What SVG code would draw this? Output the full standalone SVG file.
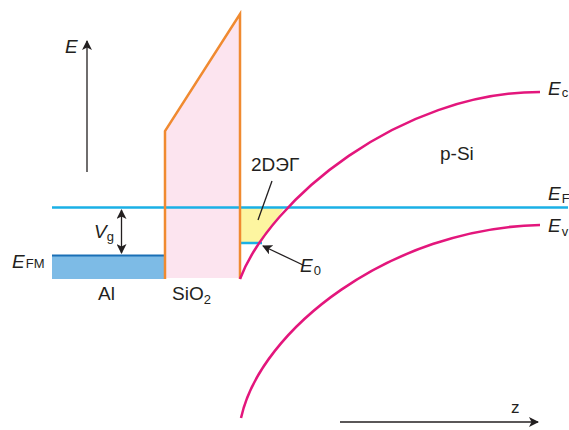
<svg xmlns="http://www.w3.org/2000/svg" width="569" height="430" viewBox="0 0 569 430">
<defs>
<marker id="ah" viewBox="0 0 10 10" refX="9" refY="5" markerWidth="10" markerHeight="10" markerUnits="userSpaceOnUse" orient="auto-start-reverse">
<path d="M0,0 L10,5 L0,10 L2.5,5 Z" fill="#231f20"/>
</marker>
</defs>
<style>
text{font-family:"Liberation Sans",Arial,sans-serif;fill:#231f20}
.it{font-style:italic;font-size:19px}
.sub{font-size:13px;font-style:normal}
.lbl{font-size:19px}
.band{fill:none;stroke:#e3167c;stroke-width:2.5}
.cyan{stroke:#1ab0e6;stroke-width:2.5;fill:none}
.ax{stroke:#231f20;stroke-width:1.3;fill:none}
</style>
<g id="oxide">
<polygon points="165,278 165,131 240,14 240,278" fill="#fce4ef"/>
</g>
<g id="metal">
<rect x="52" y="255" width="112" height="24" fill="#7dbbe6"/>
<line x1="52" y1="255.5" x2="164" y2="255.5" stroke="#1a6fb5" stroke-width="2.2"/>
</g>
<g id="gas2d">
<path d="M241,208 L284,208 L261,243 L241,243 Z" fill="#fdf5a0"/>
<line class="cyan" x1="240" y1="243" x2="262" y2="243"/>
</g>
<g id="fermi">
<line class="cyan" x1="52" y1="207.5" x2="568" y2="207.5"/>
</g>
<g id="oxide-edges">
<polyline points="165,279 165,131 240,14 240,279" fill="none" stroke="#f08a30" stroke-width="2.5" stroke-linejoin="miter"/>
</g>
<g id="bands">
<path class="band" d="M240,279 C270,200 400,92 540,92"/>
<path class="band" d="M241,418 C260,330 390,228 540,225"/>
</g>
<g id="connectors">
<line class="ax" x1="87" y1="172" x2="87" y2="41" marker-end="url(#ah)"/>
<line class="ax" x1="340" y1="422" x2="538" y2="422" marker-end="url(#ah)"/>
<line class="ax" x1="121.5" y1="210" x2="121.5" y2="253" marker-start="url(#ah)" marker-end="url(#ah)"/>
<line class="ax" x1="303" y1="265" x2="263" y2="246" marker-end="url(#ah)"/>
<line class="ax" x1="272" y1="181" x2="258" y2="220"/>
</g>
<g id="labels">
<text class="it" x="65" y="53">E</text>
<text class="it" x="94" y="238">V<tspan class="sub" dy="3">g</tspan></text>
<text class="it" x="12" y="268">E<tspan class="sub" dx="1">FM</tspan></text>
<text class="lbl" x="98" y="300">Al</text>
<text class="lbl" x="172" y="300">SiO<tspan class="sub" dy="4">2</tspan></text>
<text class="lbl" x="251" y="171">2DЭГ</text>
<text class="it" x="300" y="272">E<tspan class="sub" dx="1" dy="3">0</tspan></text>
<text class="lbl" x="440" y="160">p-Si</text>
<text class="it" x="548" y="95">E<tspan class="sub" dx="1" dy="2">c</tspan></text>
<text class="it" x="548" y="200">E<tspan class="sub" dx="1" dy="3">F</tspan></text>
<text class="it" x="548" y="232">E<tspan class="sub" dx="1" dy="4">v</tspan></text>
<text class="lbl" x="511" y="413" style="font-size:17px">z</text>
</g>
</svg>
